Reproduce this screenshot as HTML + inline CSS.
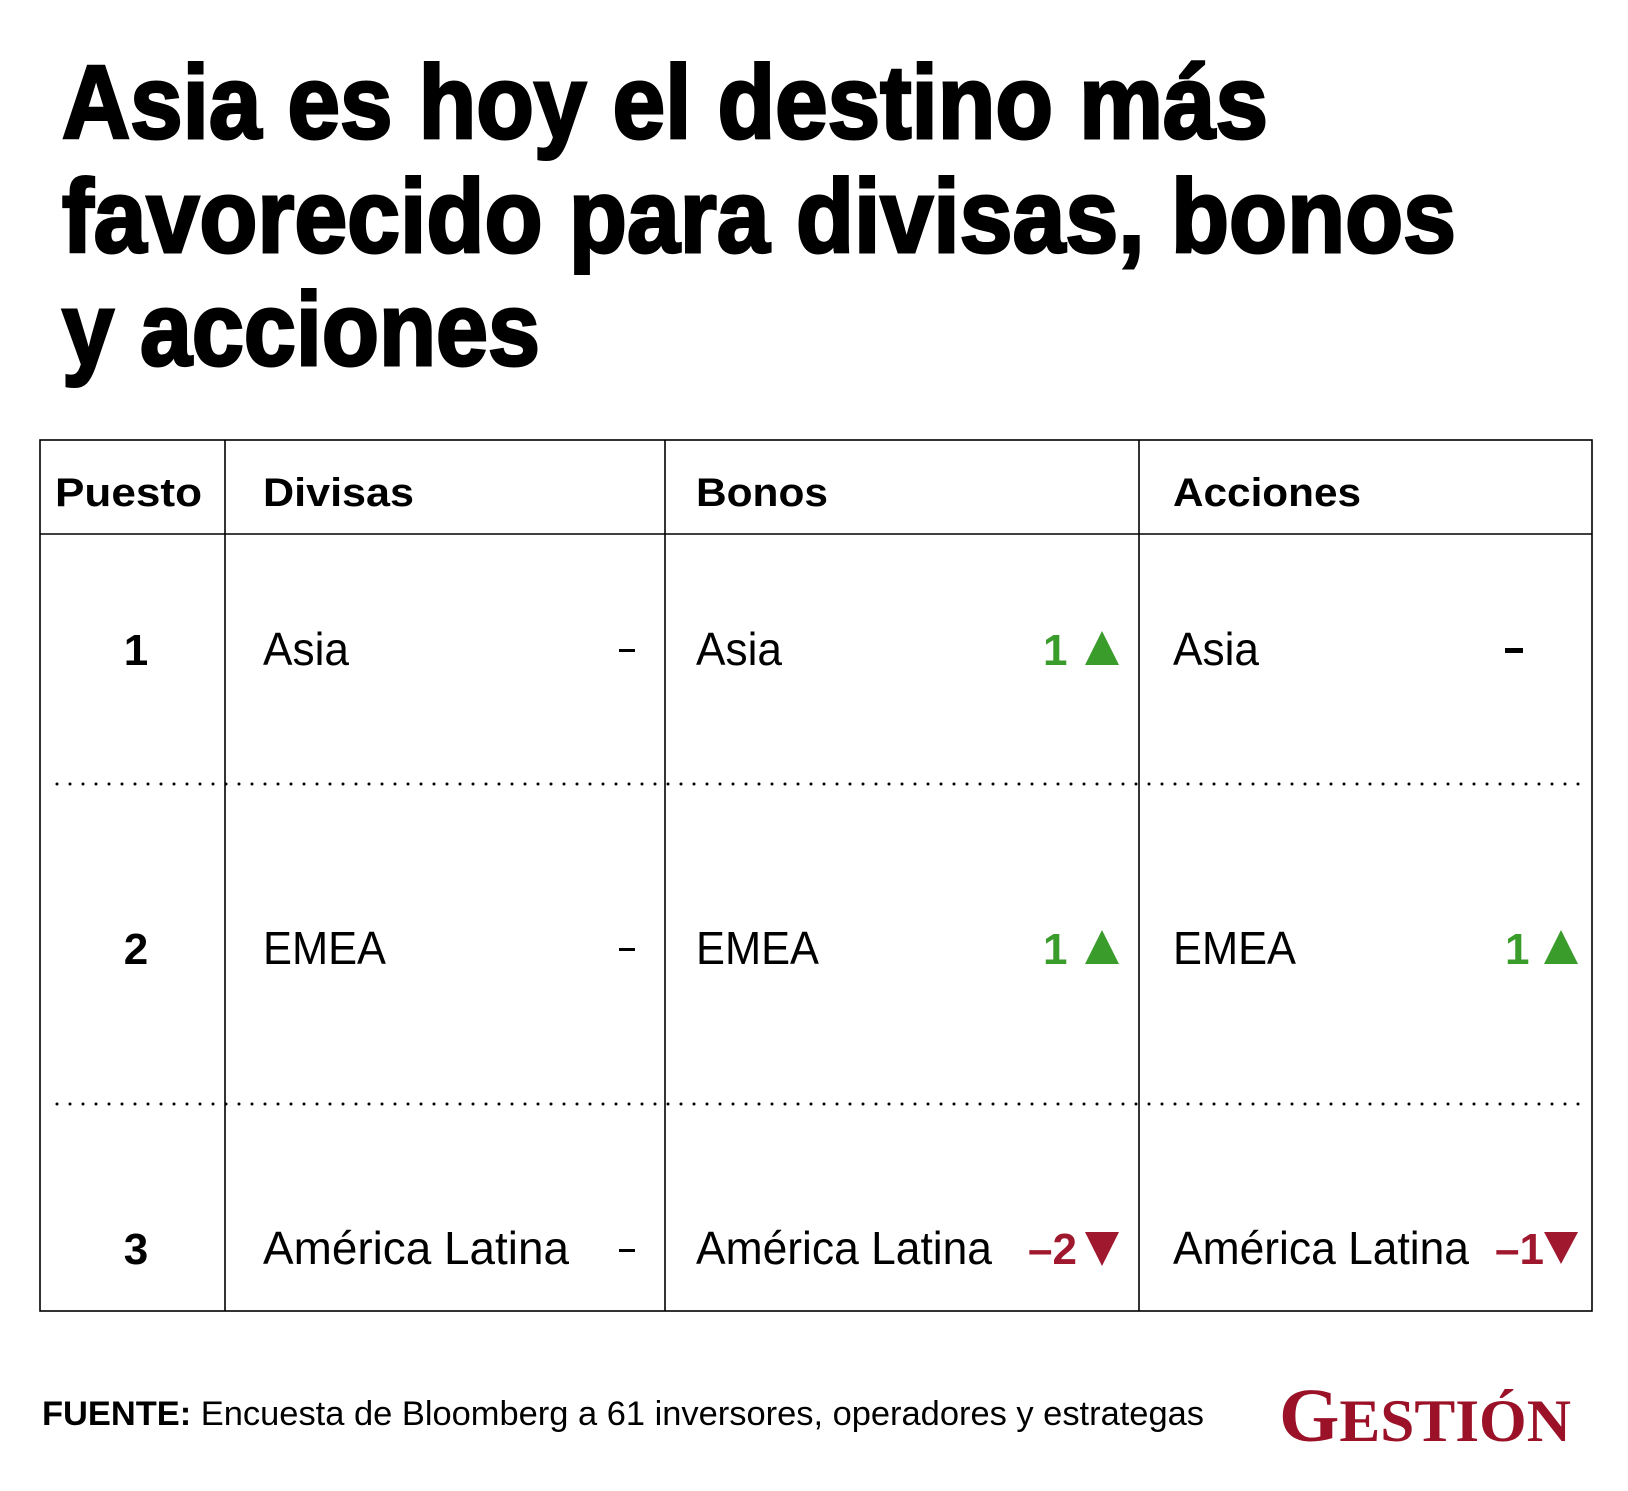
<!DOCTYPE html>
<html><head><meta charset="utf-8"><style>html,body{margin:0;padding:0;background:#fff}svg{display:block}</style></head>
<body>
<svg width="1628" height="1491" viewBox="0 0 1628 1491" xmlns="http://www.w3.org/2000/svg" font-family="Liberation Sans, sans-serif">
<g font-weight="bold" font-size="104" fill="#000" stroke="#000" stroke-width="3">
<text x="62" y="138" textLength="1206" lengthAdjust="spacingAndGlyphs">Asia es hoy el destino más</text>
<text x="62" y="252" textLength="1394" lengthAdjust="spacingAndGlyphs">favorecido para divisas, bonos</text>
<text x="62" y="365" textLength="478" lengthAdjust="spacingAndGlyphs">y acciones</text>
</g>
<g stroke="#000" stroke-width="1.6" fill="none">
<rect x="40" y="440" width="1552" height="871"/>
<line x1="40" y1="534" x2="1592" y2="534"/>
<line x1="225" y1="440" x2="225" y2="1311"/>
<line x1="665" y1="440" x2="665" y2="1311"/>
<line x1="1139" y1="440" x2="1139" y2="1311"/>
</g>
<g stroke="#000" stroke-width="3" stroke-linecap="round" stroke-dasharray="0 13">
<line x1="57" y1="784" x2="1585" y2="784"/>
<line x1="57" y1="1104" x2="1585" y2="1104"/>
</g>
<g font-weight="bold" font-size="40">
<text x="55" y="506" textLength="147" lengthAdjust="spacingAndGlyphs">Puesto</text>
<text x="263" y="506" textLength="151" lengthAdjust="spacingAndGlyphs">Divisas</text>
<text x="696" y="506" textLength="132" lengthAdjust="spacingAndGlyphs">Bonos</text>
<text x="1173" y="506" textLength="188" lengthAdjust="spacingAndGlyphs">Acciones</text>
<g text-anchor="middle" font-size="44"><text x="136" y="665">1</text><text x="136" y="964">2</text><text x="136" y="1264">3</text></g>
</g>
<g font-size="46">
<text x="263" y="665" textLength="86" lengthAdjust="spacingAndGlyphs">Asia</text>
<text x="696" y="665" textLength="86" lengthAdjust="spacingAndGlyphs">Asia</text>
<text x="1173" y="665" textLength="86" lengthAdjust="spacingAndGlyphs">Asia</text>
<text x="263" y="964" textLength="123" lengthAdjust="spacingAndGlyphs">EMEA</text>
<text x="696" y="964" textLength="123" lengthAdjust="spacingAndGlyphs">EMEA</text>
<text x="1173" y="964" textLength="123" lengthAdjust="spacingAndGlyphs">EMEA</text>
<text x="263" y="1264" textLength="306" lengthAdjust="spacingAndGlyphs">América Latina</text>
<text x="696" y="1264" textLength="296" lengthAdjust="spacingAndGlyphs">América Latina</text>
<text x="1173" y="1264" textLength="296" lengthAdjust="spacingAndGlyphs">América Latina</text>
</g>
<g fill="#000">
<rect x="619" y="649" width="16" height="3"/><rect x="619" y="948" width="16" height="3"/><rect x="619" y="1249" width="16" height="3"/>
<rect x="1505" y="648" width="18" height="5"/>
</g>
<g fill="#3a9c2a" font-weight="bold" font-size="44">
<text x="1043" y="665">1</text><polygon points="1085,665 1102,631 1119,665"/>
<text x="1043" y="964">1</text><polygon points="1085,964 1102,930 1119,964"/>
<text x="1505" y="964">1</text><polygon points="1544,964 1561,930 1578,964"/>
</g>
<g fill="#a0182e" font-weight="bold" font-size="44">
<text x="1028" y="1264">–2</text><polygon points="1085,1232 1119,1232 1102,1266"/>
<text x="1495" y="1264">–1</text><polygon points="1544,1232 1578,1232 1561,1264"/>
</g>
<text x="42" y="1425" font-size="34" textLength="1162" lengthAdjust="spacingAndGlyphs"><tspan font-weight="bold">FUENTE:</tspan> Encuesta de Bloomberg a 61 inversores, operadores y estrategas</text>
<text x="1279" y="1441" font-family="Liberation Serif, serif" font-weight="bold" font-size="76" fill="#9b1228" textLength="292" lengthAdjust="spacingAndGlyphs">G<tspan font-size="60">ESTIÓN</tspan></text>
</svg>
</body></html>
